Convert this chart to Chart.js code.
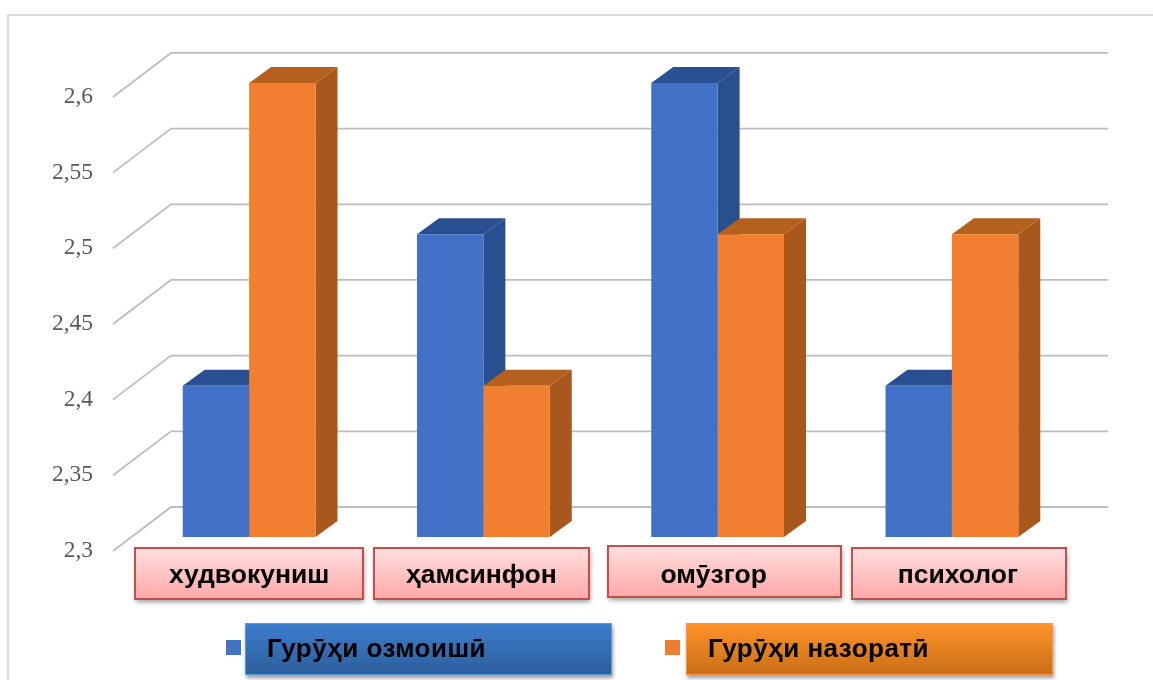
<!DOCTYPE html>
<html>
<head>
<meta charset="utf-8">
<script src="https://cdn.jsdelivr.net/npm/chart.js@4"></script>
<style>
html,body{margin:0;padding:0;background:#fff;}
#wrap{position:relative;width:1153px;height:680px;overflow:hidden;}
canvas{position:absolute;left:0;top:0;}
.lg-box{position:absolute;top:623px;height:52px;width:367px;box-sizing:border-box;box-shadow:1px 3px 4px rgba(0,0,0,.4);
  font:bold 26px "Liberation Sans",Arial,sans-serif;color:#000;line-height:48px;padding-left:21px;letter-spacing:.5px;}
.lg-mark{position:absolute;top:640px;width:15px;height:15px;}
</style>
</head>
<body>
<div id="wrap">
<canvas id="chart" width="1153" height="680"></canvas>
<div class="lg-mark" style="left:226px;background:#4472c4"></div>
<div class="lg-box" id="lg0" style="left:245px;background:linear-gradient(#3c7dce,#2c5f9c);border:1px solid #5b9bd5"></div>
<div class="lg-mark" style="left:665px;background:#ed7d31"></div>
<div class="lg-box" id="lg1" style="left:686px;background:linear-gradient(#ff9229,#c96f17);border:1px solid #f79646"></div>
</div>
<script>
var categories = ["худвокуниш","ҳамсинфон","омӯзгор","психолог"];
var seriesNames = ["Гурӯҳи озмоишӣ","Гурӯҳи назоратӣ"];
var valuesTest = [2.4,2.5,2.6,2.4];
var valuesControl = [2.6,2.4,2.5,2.5];
var tickValues = [2.3,2.35,2.4,2.45,2.5,2.55,2.6];

// 3d look: depth of the walls and of the bars, in px
var PX_PER_UNIT = 1520, AREA_H = 500;
var WALL_DX = 58, WALL_DY = 44, WALL_LEFT = 19;
var BAR_DX = 22, BAR_DY = 16, BAR_LIFT = 14;
var labelShift = [0,-2,-4,6];
var boxes = [[135,548,228,51],[374,548,215,51],[608,546,233,51],[852,548,214,51]];

function faces(ctx,b,side,top){
  var x1=b.x-b.width/2, x2=b.x+b.width/2;
  ctx.fillStyle=side;
  ctx.beginPath();ctx.moveTo(x2,b.y);ctx.lineTo(x2+BAR_DX,b.y-BAR_DY);ctx.lineTo(x2+BAR_DX,b.base-BAR_DY);ctx.lineTo(x2,b.base);ctx.closePath();ctx.fill();
  ctx.fillStyle=top;
  ctx.beginPath();ctx.moveTo(x1,b.y);ctx.lineTo(x1+BAR_DX,b.y-BAR_DY);ctx.lineTo(x2+BAR_DX,b.y-BAR_DY);ctx.lineTo(x2,b.y);ctx.closePath();ctx.fill();
}

var scene = {
  id:"scene",
  beforeDraw:function(c){
    var ctx=c.ctx;
    ctx.save();
    ctx.strokeStyle="#dcdcdc";ctx.lineWidth=2;
    ctx.strokeRect(8,15,1300,900);
    ctx.restore();
  },
  beforeDatasetsDraw:function(c){
    var ctx=c.ctx, a=c.chartArea, y=c.scales.y;
    ctx.save();
    ctx.lineWidth=1.8;
    ctx.strokeStyle="#bdbdbd";
    tickValues.forEach(function(v){
      var py=y.getPixelForValue(v), lx=a.left-WALL_LEFT;
      ctx.beginPath();
      ctx.moveTo(lx,py);
      ctx.lineTo(lx+WALL_DX,py-WALL_DY);
      ctx.lineTo(a.right+39,py-WALL_DY);
      ctx.stroke();
    });
    var m0=c.getDatasetMeta(0).data, m1=c.getDatasetMeta(1).data;
    m0.forEach(function(b,i){
      faces(ctx,b,"#2a4f8f","#2b4f93");
      faces(ctx,m1[i],"#a9571d","#b5601c");
    });
    ctx.restore();
  }
};

// the pink boxes cover the first pass of the tick text, so x is drawn again on top
var labelBoxes = {
  id:"labelBoxes",
  afterDatasetsDraw:function(c){
    var ctx=c.ctx;
    boxes.forEach(function(r){
      ctx.save();
      ctx.shadowColor="rgba(0,0,0,.4)";ctx.shadowBlur=5;ctx.shadowOffsetY=3;ctx.shadowOffsetX=1;
      var g=ctx.createLinearGradient(0,r[1],0,r[1]+r[3]);
      g.addColorStop(0,"#ffdfdf");g.addColorStop(1,"#ffa8a8");
      ctx.fillStyle=g;ctx.fillRect(r[0],r[1],r[2],r[3]);
      ctx.shadowColor="transparent";
      ctx.strokeStyle="#c0504d";ctx.lineWidth=2;ctx.strokeRect(r[0],r[1],r[2],r[3]);
      ctx.restore();
    });
    c.scales.x.draw({left:0,top:0,right:1153,bottom:680});
  }
};

new Chart(document.getElementById("chart"),{
  type:"bar",
  data:{
    labels:categories,
    datasets:[
      {label:seriesNames[0],data:valuesTest,yAxisID:"y1",base:2.3,backgroundColor:"#4272c8",categoryPercentage:134/234.4,barPercentage:1,clip:false},
      {label:seriesNames[1],data:valuesControl,yAxisID:"y1",base:2.3,backgroundColor:"#f27f2f",categoryPercentage:134/234.4,barPercentage:1,clip:false}
    ]
  },
  options:{
    responsive:false,
    animation:false,
    layout:{padding:{top:51,right:84,left:0,bottom:0}},
    plugins:{legend:{display:false},tooltip:{enabled:false}},
    scales:{
      x:{
        grid:{display:false},border:{display:false},
        afterFit:function(s){s.height=129;},
        afterBuildTicks:function(s){s.ticks.forEach(function(t,i){t.value=i+labelShift[i]/234.4;});},
        ticks:{
          autoSkip:false,maxRotation:0,padding:1,color:"#000",
          font:{family:"'Liberation Sans'",weight:"bold",size:26.5},
          callback:function(v,i){return categories[i];}
        }
      },
      y:{
        min:2.3,max:2.3+AREA_H/PX_PER_UNIT,
        grid:{display:false,drawTicks:false},border:{display:false},
        afterFit:function(s){s.width=132;},
        afterBuildTicks:function(s){s.ticks=tickValues.map(function(v){return {value:v};});},
        ticks:{
          padding:39,color:"#595959",
          font:{family:"'Liberation Serif'",size:23.5},
          callback:function(v){return String(v).replace(".",",");}
        }
      },
      y1:{
        display:false,
        min:2.3-BAR_LIFT/PX_PER_UNIT,max:2.3-BAR_LIFT/PX_PER_UNIT+AREA_H/PX_PER_UNIT
      }
    }
  },
  plugins:[scene,labelBoxes]
});
document.getElementById("lg0").textContent=seriesNames[0];
document.getElementById("lg1").textContent=seriesNames[1];
</script>
</body>
</html>
